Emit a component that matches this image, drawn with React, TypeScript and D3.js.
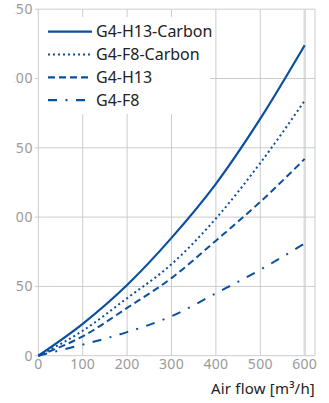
import React from "react";
import * as d3 from "d3";

const airflow = [0, 100, 200, 300, 400, 500, 600];
const h13Carbon = [0, 23, 51, 85, 124, 171, 224];
const f8Carbon = [0, 18, 41.5, 66, 99, 139, 184];
const h13 = [0, 14, 34.5, 56, 83, 111, 142];
const f8 = [0, 8, 17, 28.5, 45, 62, 81];
const seriesNames = ["G4-H13-Carbon", "G4-F8-Carbon", "G4-H13", "G4-F8"];
const xTicks = [0, 100, 200, 300, 400, 500, 600];
const yTicks = [0, 50, 100, 150, 200, 250];
const xLabel = "Air flow [m³/h]";

const W = 329;
const H = 403;
const left = 38.3;
const right = 315;
const top = 9.2;
const bottom = 355.7;
const BLUE = "#0b4f9f";
const GRID = "#cccccc";
const LABEL = "#9a9a9a";
const FONT = "'Noto Sans', sans-serif";

const dashes = ["", "2,3", "7,4", "9,8.5,2,8.5"];

export default function App() {
  const x = d3.scaleLinear().domain([0, 600]).range([left, left + 6 * 44.4]);
  const y = d3.scaleLinear().domain([0, 250]).range([bottom, top]);
  const all = [h13Carbon, f8Carbon, h13, f8];
  const line = d3
    .line<number>()
    .x((_, i) => x(airflow[i]))
    .y((d) => y(d))
    .curve(d3.curveMonotoneX);

  return (
    <svg
      width={W}
      height={H}
      style={{ position: "absolute", left: 0, top: 0, background: "#fff" }}
      fontFamily={FONT}
    >
      <defs>
        <clipPath id="lblclip">
          <rect x={14.5} y={0} width={W} height={H} />
        </clipPath>
      </defs>
      {xTicks.slice(1).map((t) => (
        <line
          key={"vx" + t}
          x1={x(t)}
          x2={x(t)}
          y1={top}
          y2={bottom}
          stroke={t === 600 ? "#dcdcdc" : GRID}
          strokeWidth={t === 600 ? 2.5 : 1}
        />
      ))}
      {yTicks.map((t) => (
        <line
          key={"hy" + t}
          x1={left - 3.5}
          x2={right}
          y1={y(t)}
          y2={y(t)}
          stroke={GRID}
          strokeWidth={1}
        />
      ))}
      <line x1={left} x2={left} y1={top} y2={bottom} stroke={GRID} />
      <line x1={right} x2={right} y1={top} y2={bottom} stroke={GRID} />
      <rect x={39} y={17} width={171} height={97} fill="#fff" />
      <g clipPath="url(#lblclip)">
        {yTicks.map((t) => (
          <text
            key={"yl" + t}
            x={33}
            y={y(t)}
            dy="0.35em"
            textAnchor="end"
            fontSize={14}
            letterSpacing={0.6}
            fill={LABEL}
          >
            {t}
          </text>
        ))}
      </g>
      {xTicks.map((t) => (
        <text
          key={"xl" + t}
          x={x(t)}
          y={369}
          textAnchor="middle"
          fontSize={14}
          letterSpacing={0.3}
          fill={LABEL}
        >
          {t}
        </text>
      ))}
      <text x={315} y={394} textAnchor="end" fontSize={15} letterSpacing={0.2} fill="#222">
        {xLabel}
      </text>
      {all.map((s, i) => (
        <path
          key={"s" + i}
          d={line(s) || ""}
          fill="none"
          stroke={BLUE}
          strokeWidth={i === 0 ? 2.2 : 2}
          strokeDasharray={dashes[i] || undefined}
        />
      ))}
      {seriesNames.map((n, i) => {
        const yy = 31.7 + i * 22.8;
        return (
          <g key={"lg" + i}>
            <line
              x1={48}
              x2={92}
              y1={yy}
              y2={yy}
              stroke={BLUE}
              strokeWidth={2.2}
              strokeDasharray={dashes[i] || undefined}
            />
            <text x={96} y={yy} dy="0.35em" fontSize={16} fill="#222">
              {n}
            </text>
          </g>
        );
      })}
    </svg>
  );
}
